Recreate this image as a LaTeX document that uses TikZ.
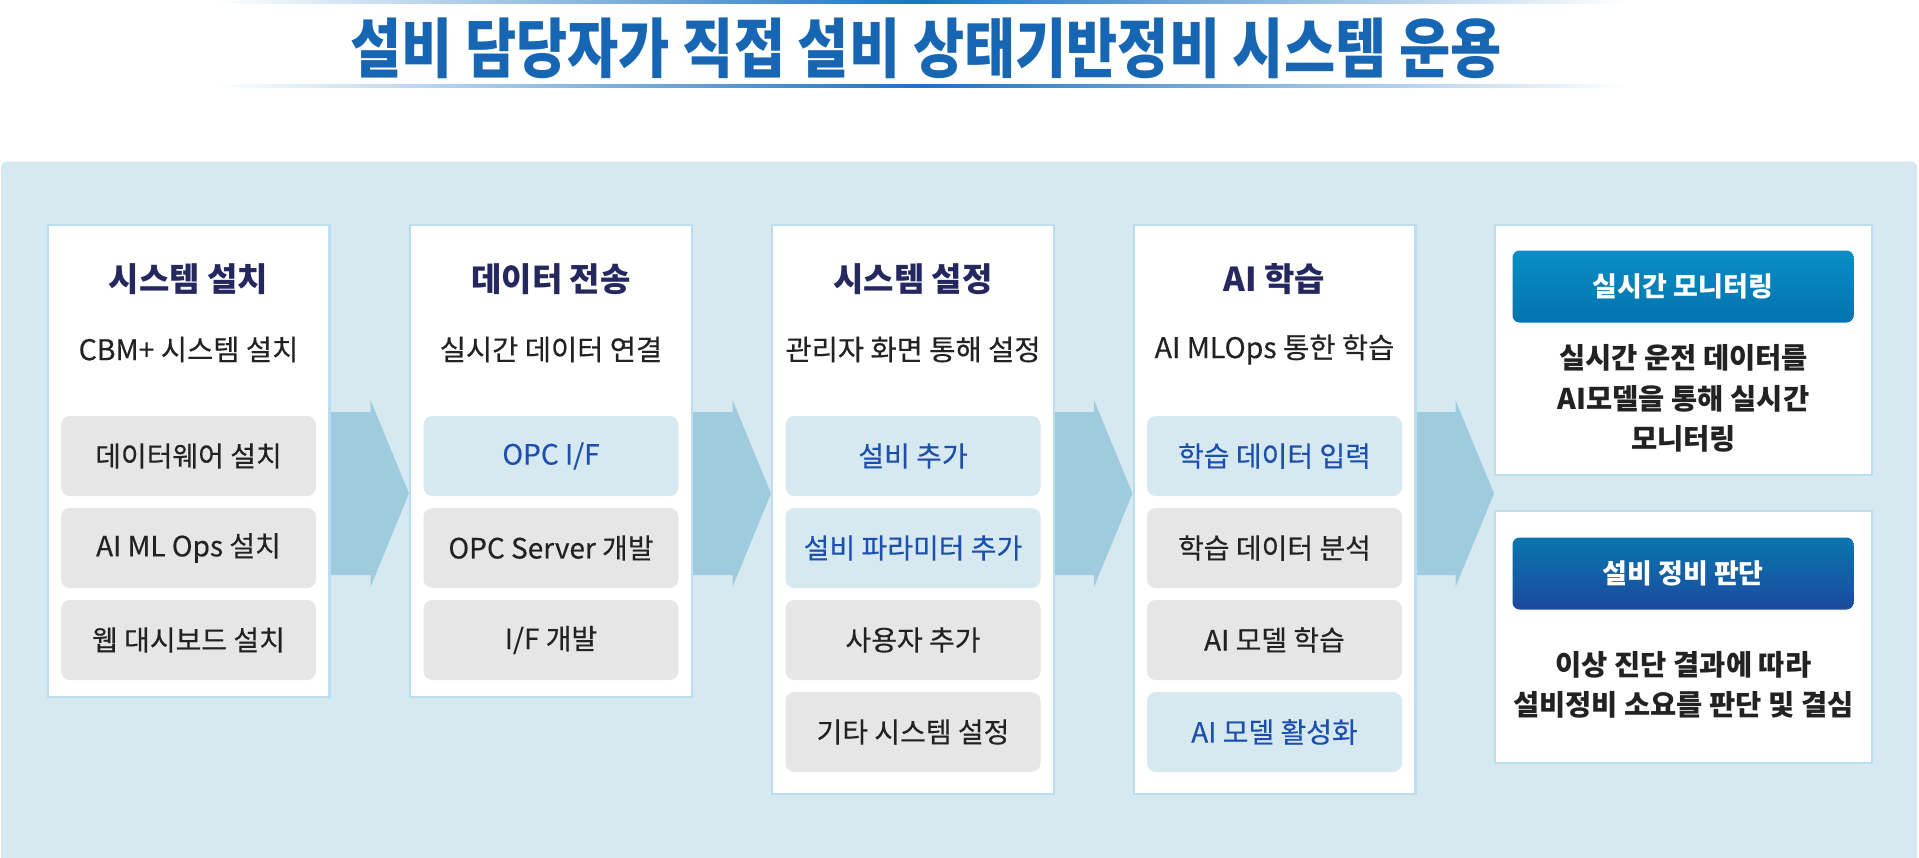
\documentclass[tikz,border=0pt]{standalone}
\usepackage{fontspec}
\newfontfamily\kr{Noto Sans CJK KR}
\newfontfamily\krmed[FakeBold=0.35]{Noto Sans CJK KR}
\IfFontExistsTF{Noto Sans CJK KR Black}
  {\newfontfamily\krtitle[FakeStretch=0.86]{Noto Sans CJK KR Black}}
  {\newfontfamily\krtitle[FakeStretch=0.86,FakeBold=0.6]{Noto Sans CJK KR Bold}}
\usetikzlibrary{calc}
\definecolor{panelbg}{HTML}{D6E9F1}
\definecolor{colborder}{HTML}{BBDDEE}
\definecolor{boxgray}{HTML}{E6E6E6}
\definecolor{arrowc}{HTML}{9ECBDD}
\definecolor{navy}{HTML}{24285F}
\definecolor{darktxt}{HTML}{222222}
\definecolor{bluetxt}{HTML}{1D4FAE}
\definecolor{titleblue}{HTML}{1766B3}
\definecolor{titleline}{HTML}{1A73C2}
\definecolor{baraTop}{HTML}{0A8DC6}
\definecolor{baraBot}{HTML}{0273AD}
\definecolor{barbTop}{HTML}{0A76AE}
\definecolor{barbBot}{HTML}{1C4A9E}
\pgfdeclarelayer{panel}
\pgfdeclarelayer{arrowlayer}
\pgfsetlayers{panel,arrowlayer,main}
\newcommand\flowarrow[2]{%
  \fill[arrowc] ($(#1.east|-ay)+(0,-81.5)$) -- ($(#2.west|-ay)+(-38.5,-81.5)$)
    -- ($(#2.west|-ay)+(-38.5,-93.5)$) -- (#2.west|-ay)
    -- ($(#2.west|-ay)+(-38.5,93.5)$) -- ($(#2.west|-ay)+(-38.5,81.5)$)
    -- ($(#1.east|-ay)+(0,81.5)$) -- cycle;}
\begin{document}
\begin{tikzpicture}[x=1pt,y=-1pt,
  column/.style={draw=colborder, line width=2.4pt, fill=white, minimum width=281.6pt, minimum height=#1, inner sep=0pt},
  head/.style={font=\kr\bfseries\fontsize{33}{38}\selectfont, text=navy, inner sep=0pt},
  sub/.style={font=\krmed\fontsize{28.5}{34}\selectfont, text=darktxt, inner sep=0pt},
  graycell/.style={fill=boxgray, rounded corners=9pt, minimum width=255pt, minimum height=80pt, inner sep=0pt, font=\krmed\fontsize{28}{32}\selectfont, text=darktxt},
  bluecell/.style={graycell, fill=panelbg, text=bluetxt},
  bar/.style={rounded corners=7pt, minimum width=341pt, minimum height=72pt, inner sep=0pt, text=white, font=\kr\bfseries\fontsize{27}{32}\selectfont},
  body/.style={align=center, inner sep=0pt, text=darktxt, font=\kr\bfseries\fontsize{28.5}{40.5}\selectfont}
]
\useasboundingbox (0,0) rectangle (1919,857);
\begin{pgfonlayer}{panel}
  \fill[white] (0,0) rectangle (1919,857);
  \fill[panelbg, rounded corners=6pt] (1,161.5) rectangle (1917,880);
  \shade[left color=white, right color=white, middle color=titleline] (214,0) rectangle (1628,3);
  \shade[left color=white, right color=white, middle color=titleline] (214,84) rectangle (1628,87);
\end{pgfonlayer}

\node[text=titleblue, inner sep=0pt, font=\krtitle\fontsize{64.7}{66}\selectfont] (title) at (926,48.5) {설비 담당자가 직접 설비 상태기반정비 시스템 운용};

% columns
\node[column=471.6pt] (c1) at (188.5,461) {};
\node[column=471.6pt] (c2) at (551,461) {};
\node[column=568.6pt] (c3) at (913,509.5) {};
\node[column=568.6pt] (c4) at (1274.5,509.5) {};
\node[draw=colborder, line width=2.4pt, fill=white, minimum width=376.6pt, minimum height=249.6pt, inner sep=0pt] (r1) at (1683.5,350) {};
\node[draw=colborder, line width=2.4pt, fill=white, minimum width=376.6pt, minimum height=251.6pt, inner sep=0pt] (r2) at (1683.5,637) {};

\coordinate (ay) at (0,493.5);
\coordinate (ya) at (0,456);
\coordinate (yb) at (0,548);
\coordinate (yc) at (0,640);
\coordinate (yd) at (0,732);
\coordinate (yh) at (0,279);
\coordinate (ys) at (0,349.5);

% headings
\node[head] (h1) at (c1 |- yh) {시스템 설치};
\node[head] (h2) at (c2 |- yh) {데이터 전송};
\node[head] (h3) at (c3 |- yh) {시스템 설정};
\node[head] (h4) at (c4 |- yh) {AI 학습};
\node[sub] (s1) at (c1 |- ys) {CBM+ 시스템 설치};
\node[sub] (s2) at (c2 |- ys) {실시간 데이터 연결};
\node[sub] (s3) at (c3 |- ys) {관리자 화면 통해 설정};
\node[sub] (s4) at (c4 |- ys) {AI MLOps 통한 학습};

% column 1
\node[graycell] (c1a) at (c1 |- ya) {데이터웨어 설치};
\node[graycell] (c1b) at (c1 |- yb) {AI ML Ops 설치};
\node[graycell] (c1c) at (c1 |- yc) {웹 대시보드 설치};
% column 2
\node[bluecell] (c2a) at (c2 |- ya) {OPC I/F};
\node[graycell] (c2b) at (c2 |- yb) {OPC Server 개발};
\node[graycell] (c2c) at (c2 |- yc) {I/F 개발};
% column 3
\node[bluecell] (c3a) at (c3 |- ya) {설비 추가};
\node[bluecell] (c3b) at (c3 |- yb) {설비 파라미터 추가};
\node[graycell] (c3c) at (c3 |- yc) {사용자 추가};
\node[graycell] (c3d) at (c3 |- yd) {기타 시스템 설정};
% column 4
\node[bluecell] (c4a) at (c4 |- ya) {학습 데이터 입력};
\node[graycell] (c4b) at (c4 |- yb) {학습 데이터 분석};
\node[graycell] (c4c) at (c4 |- yc) {AI 모델 학습};
\node[bluecell] (c4d) at (c4 |- yd) {AI 모델 활성화};

% right boxes
\node[bar, top color=baraTop, bottom color=baraBot] (b1) at (1683,286.5) {실시간 모니터링};
\node[body] (t1) at (1683.5,398.5) {실시간 운전 데이터를\\AI모델을 통해 실시간\\모니터링};
\node[bar, top color=barbTop, bottom color=barbBot] (b2) at (1683,573.5) {설비 정비 판단};
\node[body] (t2) at (1683.5,685) {이상 진단 결과에 따라\\설비정비 소요를 판단 및 결심};

% arrows
\begin{pgfonlayer}{arrowlayer}
  \flowarrow{c1}{c2}
  \flowarrow{c2}{c3}
  \flowarrow{c3}{c4}
  \flowarrow{c4}{r1}
\end{pgfonlayer}
\end{tikzpicture}
\end{document}
